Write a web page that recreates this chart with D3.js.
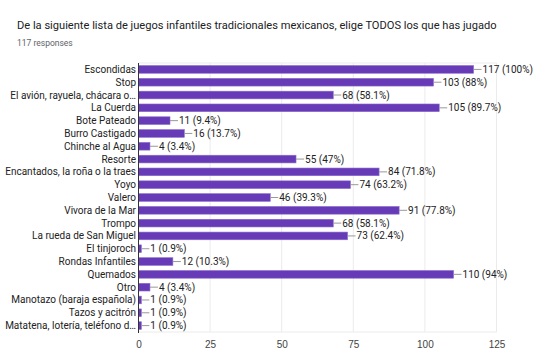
<!DOCTYPE html>
<meta charset="utf-8">
<style>
body { margin: 0; background: #fff; }
svg { font-family: Roboto, Arial, sans-serif; }
.title { font-size: 11.1px; fill: #202124; }
.sub { font-size: 8.5px; fill: #5f6368; }
.cat { font-size: 10px; fill: #222; }
.val { font-size: 10px; fill: #222; }
.grid line { stroke: #ebebeb; }
.xaxis text { font-size: 10px; fill: #444; }
</style>
<body>
<script src="https://d3js.org/d3.v7.min.js"></script>
<script>

var categories = ["Escondidas", "Stop", "El avión, rayuela, chácara o…", "La Cuerda",
  "Bote Pateado", "Burro Castigado", "Chinche al Agua", "Resorte",
  "Encantados, la roña o la traes", "Yoyo", "Valero", "Vivora de la Mar",
  "Trompo", "La rueda de San Miguel", "El tinjoroch", "Rondas Infantiles",
  "Quemados", "Otro", "Manotazo (baraja española)", "Tazos y acitrón",
  "Matatena, lotería, teléfono d…"];
var counts = [117, 103, 68, 105, 11, 16, 4, 55, 84, 74, 46, 91, 68, 73, 1, 12, 110, 4, 1, 1, 1];
var percents = ["100%", "88%", "58.1%", "89.7%", "9.4%", "13.7%", "3.4%", "47%", "71.8%",
  "63.2%", "39.3%", "77.8%", "58.1%", "62.4%", "0.9%", "10.3%", "94%", "3.4%", "0.9%",
  "0.9%", "0.9%"];
var xTicks = [0, 25, 50, 75, 100, 125];

var width = 552, height = 364;
var plotLeft = 138.5, plotRight = 496.5, plotTop = 63, plotBottom = 332;

var svg = d3.select("body").append("svg")
    .attr("width", width)
    .attr("height", height);

svg.append("text").attr("class", "title")
    .attr("x", 17).attr("y", 29)
    .text("De la siguiente lista de juegos infantiles tradicionales mexicanos, elige TODOS los que has jugado");
svg.append("text").attr("class", "sub")
    .attr("x", 17).attr("y", 46)
    .text("117 responses");

var x = d3.scaleLinear().domain([0, 125]).range([plotLeft, plotRight]);
var y = d3.scaleBand().domain(categories).range([plotTop, plotBottom])
    .paddingInner(0.4).paddingOuter(0.2);

// grid
var grid = svg.append("g").attr("class", "grid");
grid.selectAll("line.v").data(xTicks.slice(1)).enter().append("line")
    .attr("x1", d => x(d)).attr("x2", d => x(d))
    .attr("y1", plotTop).attr("y2", plotBottom);
grid.append("line").attr("x1", plotLeft).attr("x2", plotRight).attr("y1", plotTop).attr("y2", plotTop);
grid.append("line").attr("x1", plotLeft).attr("x2", plotRight).attr("y1", plotBottom).attr("y2", plotBottom);

// bars
svg.selectAll("rect.bar").data(counts).enter().append("rect")
    .attr("class", "bar")
    .attr("x", x(0))
    .attr("y", (d, i) => y(categories[i]))
    .attr("width", d => x(d) - x(0))
    .attr("height", y.bandwidth())
    .attr("fill", "#673ab7")
    .attr("stroke", "#8a6bc9")
    .attr("stroke-width", 0.6);

// leader lines + labels
var lab = svg.append("g");
counts.forEach(function(d, i) {
  var cy = y(categories[i]) + y.bandwidth() / 2;
  lab.append("line")
      .attr("x1", x(d)).attr("x2", x(d) + 8)
      .attr("y1", cy).attr("y2", cy)
      .attr("stroke", "#999").attr("stroke-width", 1);
  lab.append("text").attr("class", "val")
      .attr("x", x(d) + 9).attr("y", cy).attr("dy", "0.35em")
      .text(d + " (" + percents[i] + ")");
  svg.append("text").attr("class", "cat")
      .attr("x", plotLeft - 2.5).attr("y", cy).attr("dy", "0.35em")
      .attr("text-anchor", "end")
      .text(categories[i]);
});

// axis line
svg.append("line").attr("x1", plotLeft).attr("x2", plotLeft)
    .attr("y1", plotTop).attr("y2", plotBottom + 1)
    .attr("stroke", "#333").attr("stroke-width", 1);

var xa = svg.append("g").attr("class", "xaxis")
    .attr("transform", "translate(0," + (plotBottom + 9) + ")")
    .call(d3.axisBottom(x).tickValues(xTicks).tickSize(0).tickPadding(0));
xa.select(".domain").remove();

</script>
